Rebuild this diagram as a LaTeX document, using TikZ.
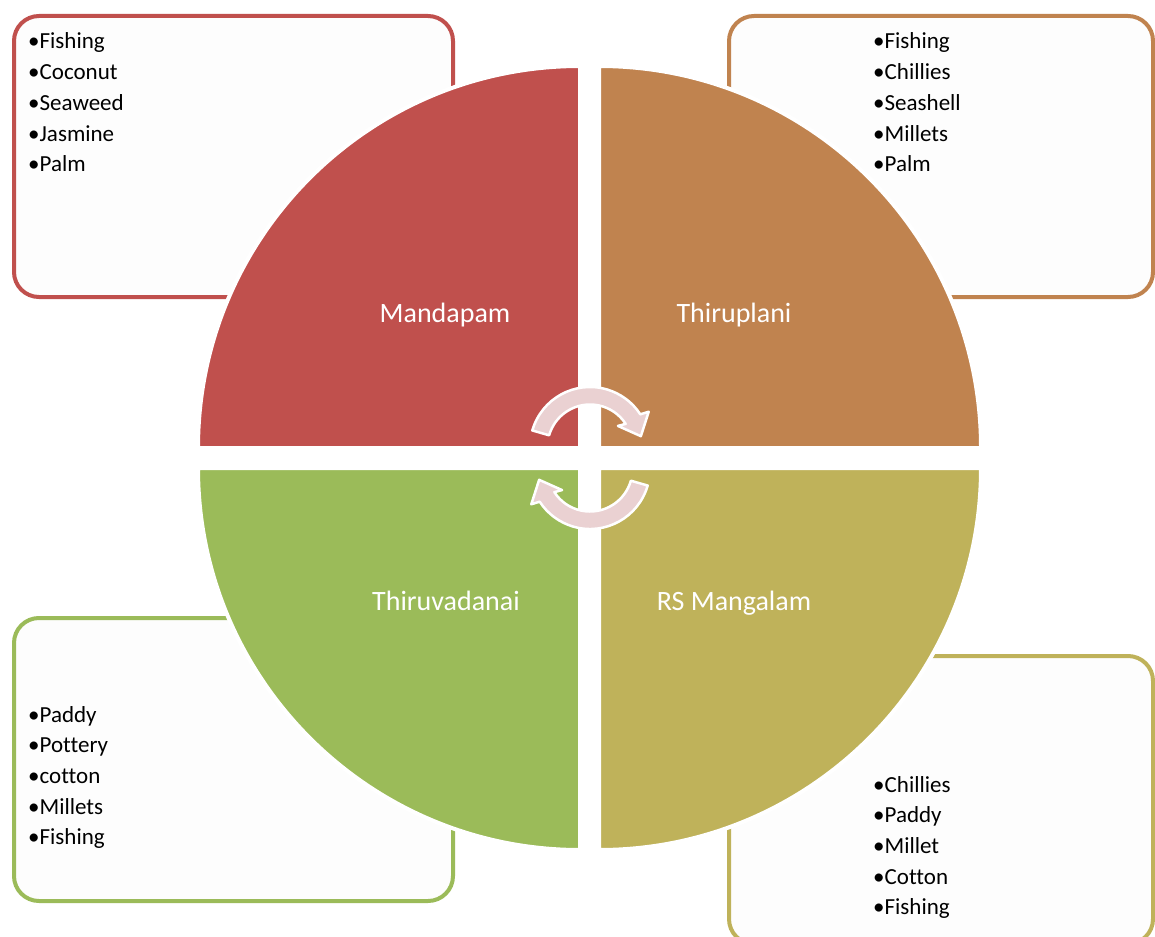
\documentclass[tikz,border=0pt]{standalone}
\usepackage{fontspec}
\setmainfont[Ligatures=NoCommon]{Carlito}
\definecolor{qred}{HTML}{C0504D}
\definecolor{qorange}{HTML}{C0834F}
\definecolor{qolive}{HTML}{BFB25A}
\definecolor{qgreen}{HTML}{9BBB59}
\definecolor{arrowpink}{HTML}{EAD1D2}
\definecolor{boxfill}{HTML}{FDFDFD}
\begin{document}
\begin{tikzpicture}[x=1pt,y=-1pt,
  box/.style={draw, line width=4pt, rounded corners=25pt, fill=boxfill},
  quad/.style={draw=white, line width=4pt},
  lbl/.style={text=white, font=\fontsize{28}{32}\selectfont, anchor=base, inner sep=0pt},
  item/.style={text=black, font=\fontsize{23}{28}\selectfont, anchor=base west, inner sep=0pt},
  arr/.style={fill=arrowpink, draw=white, line width=2.5pt, line join=round}]
\useasboundingbox (0,0) rectangle (1155,936);
\clip (0,0) rectangle (1155,936);
% boxes
\draw[box, draw=qred]    (14,16)  rectangle (453,297);
\draw[box, draw=qorange] (729,16) rectangle (1153,297);
\draw[box, draw=qgreen]  (14,618) rectangle (453,901);
\draw[box, draw=qolive]  (729,656) rectangle (1153,944);
% quadrants
\draw[quad, fill=qred]    (580,448) -- (198,448) arc[start angle=180, end angle=270, radius=382] -- cycle;
\draw[quad, fill=qorange] (599,448) -- (599,66) arc[start angle=270, end angle=360, radius=382] -- cycle;
\draw[quad, fill=qolive]  (599,468) -- (981,468) arc[start angle=0, end angle=90, radius=382] -- cycle;
\draw[quad, fill=qgreen]  (580,468) -- (580,850) arc[start angle=90, end angle=180, radius=382] -- cycle;
% labels
\node[lbl] (mandapam) at (445,322) {Mandapam};
\node[lbl] (thiruplani) at (734,322) {Thiruplani};
\node[lbl] (thiruvadanai) at (446,610) {Thiruvadanai};
\node[lbl] (rsmangalam) at (734,610) {RS Mangalam};
% circular arrows
\begin{scope}[shift={(590,447)}, yscale=-1]
  \draw[arr] (164:60) arc[start angle=164, end angle=33, radius=60] -- (31:68.5) -- (12:52) -- (37:35) -- (33:42.5) arc[start angle=33, end angle=164, radius=42.5] -- cycle;
\end{scope}
\begin{scope}[shift={(590,469)}, yscale=-1, rotate=180]
  \draw[arr] (164:60) arc[start angle=164, end angle=33, radius=60] -- (31:68.5) -- (12:52) -- (37:35) -- (33:42.5) arc[start angle=33, end angle=164, radius=42.5] -- cycle;
\end{scope}
% lists
\foreach \t [count=\i] in {Fishing,Coconut,Seaweed,Jasmine,Palm}
  \node[item] (tl\i) at (28,{49+30.7*(\i-1)}) {•\t};
\foreach \t [count=\i] in {Fishing,Chillies,Seashell,Millets,Palm}
  \node[item] (tr\i) at (873,{49+30.7*(\i-1)}) {•\t};
\foreach \t [count=\i] in {Paddy,Pottery,cotton,Millets,Fishing}
  \node[item] (bl\i) at (28,{722+30.7*(\i-1)}) {•\t};
\foreach \t [count=\i] in {Chillies,Paddy,Millet,Cotton,Fishing}
  \node[item] (br\i) at (873,{792+30.7*(\i-1)}) {•\t};
\end{tikzpicture}
\end{document}
